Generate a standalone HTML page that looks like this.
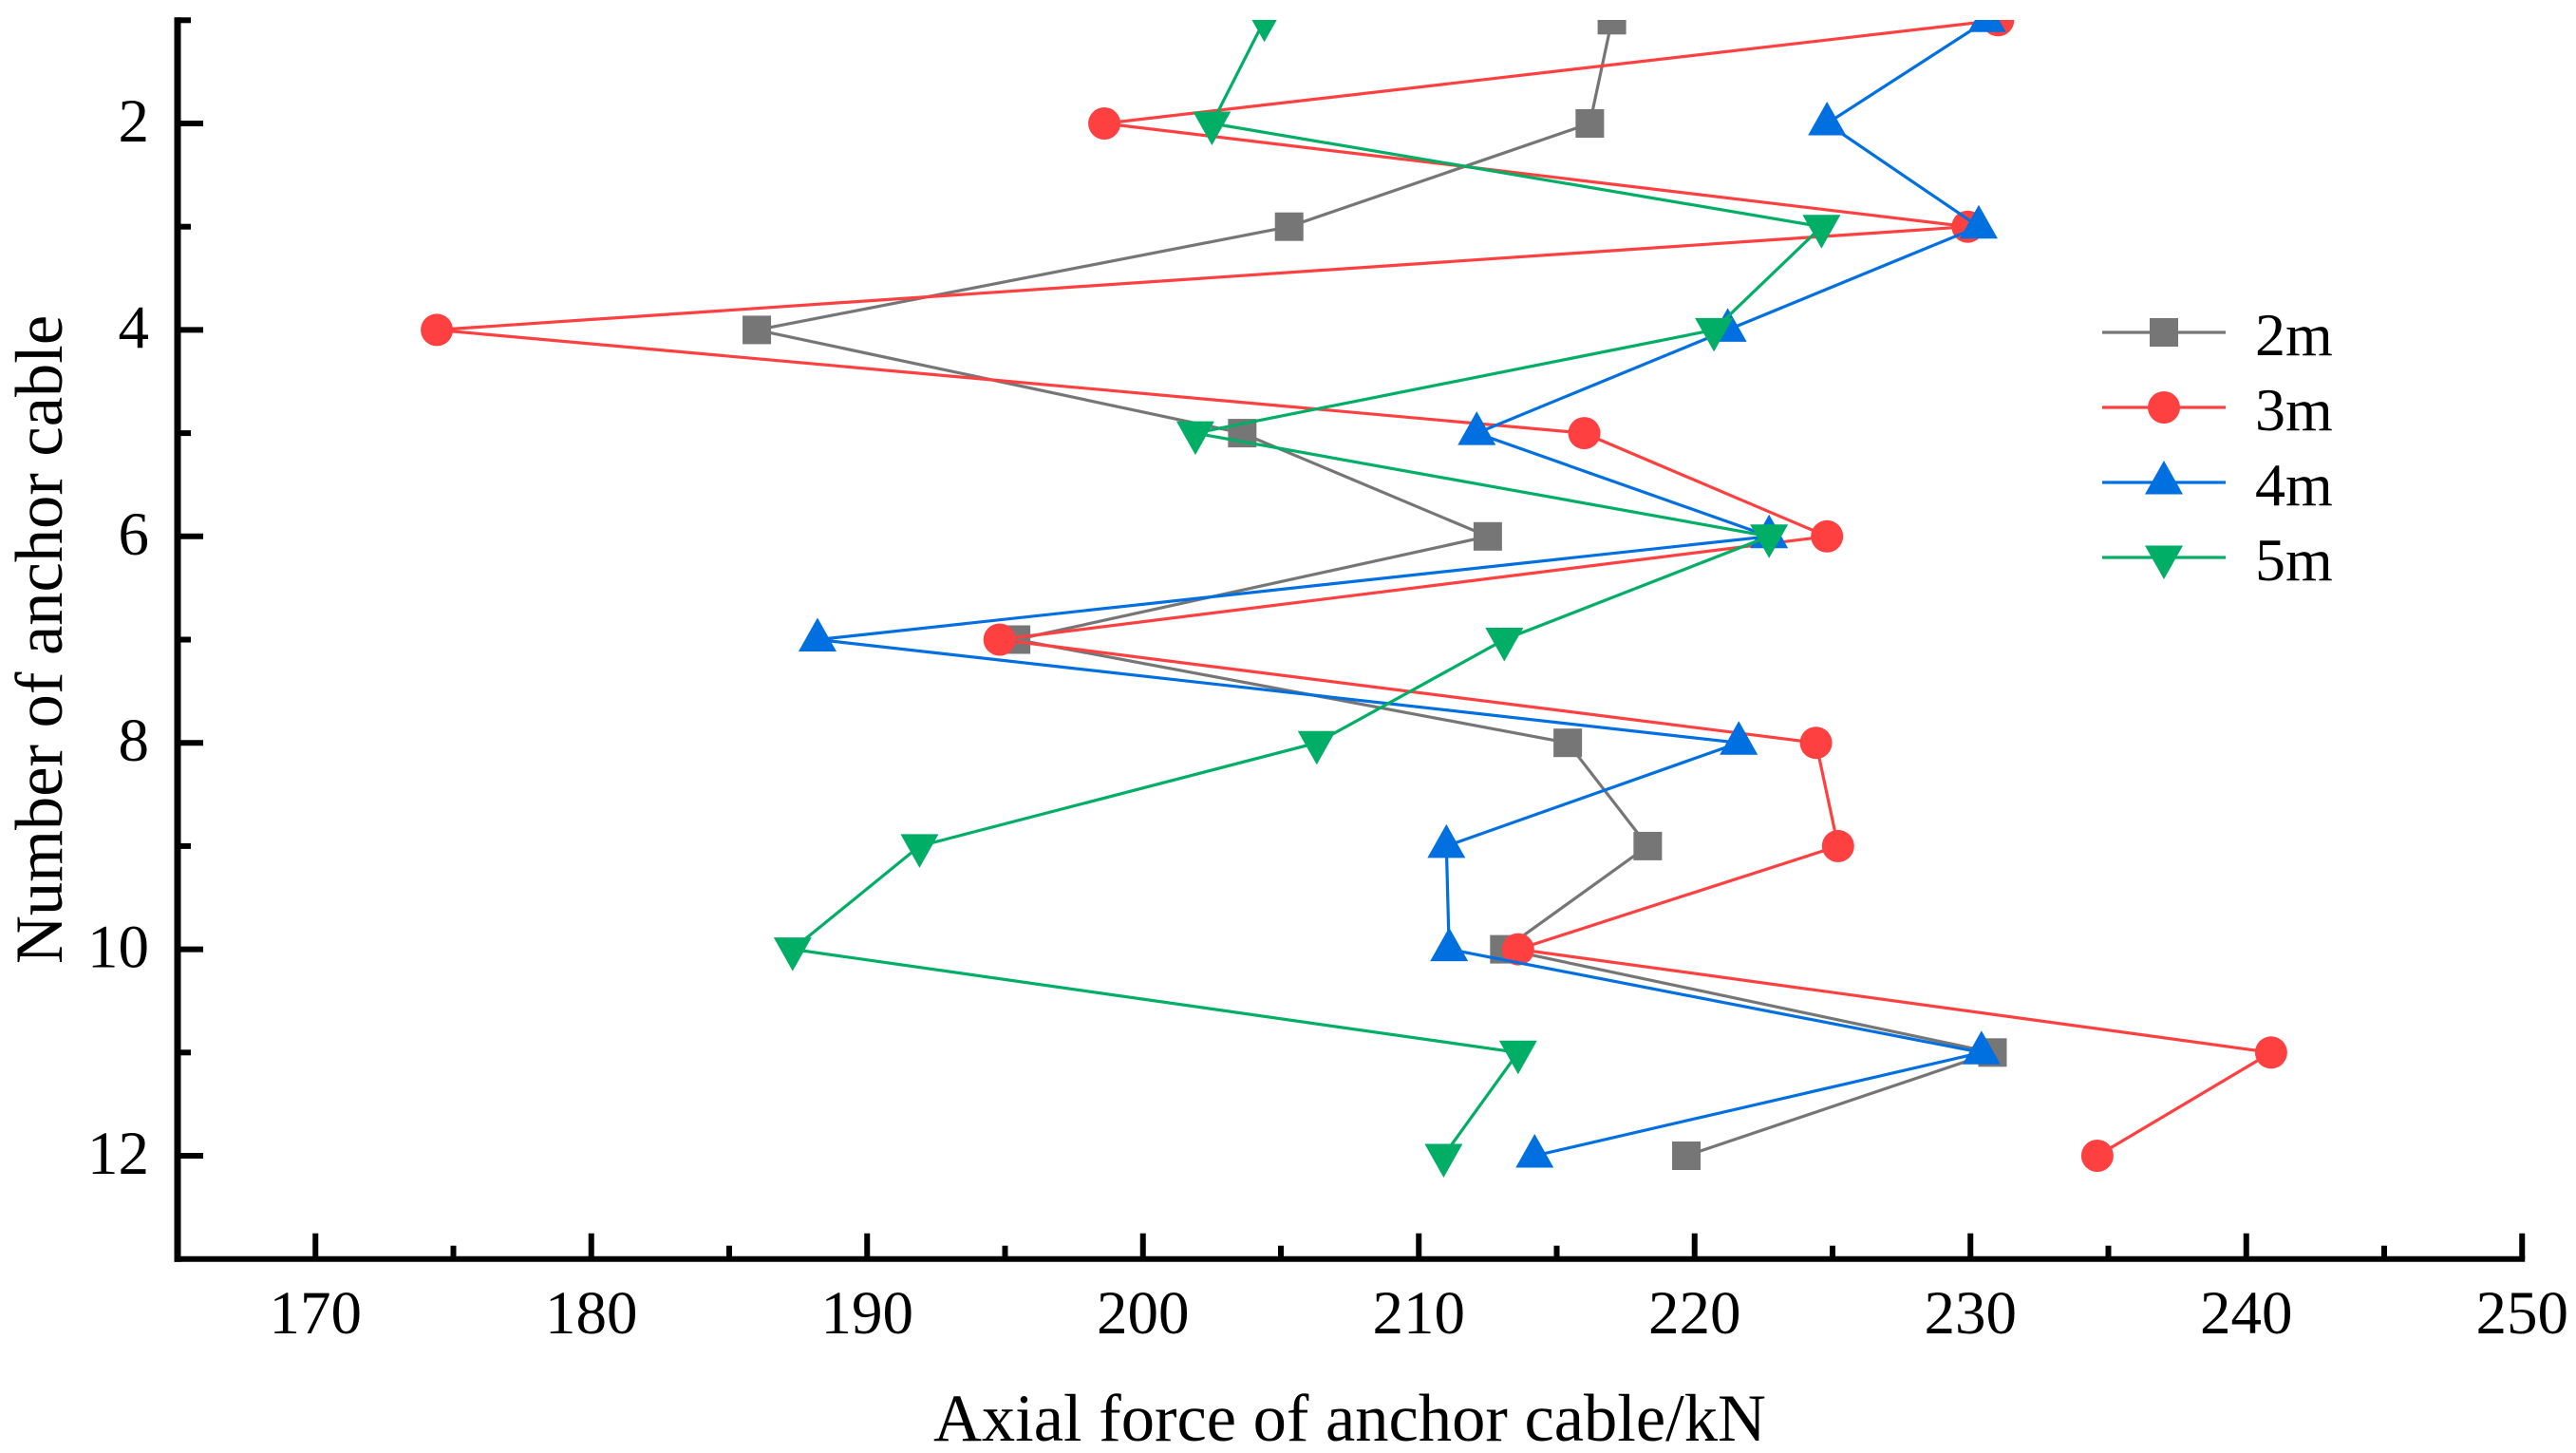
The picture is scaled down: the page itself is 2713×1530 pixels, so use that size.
<!DOCTYPE html>
<html lang="en">
<head>
<meta charset="utf-8">
<title>Axial force of anchor cable</title>
<style>
html,body{margin:0;padding:0;background:#fff;}
svg{display:block;}
text{font-family:"Liberation Serif",serif;fill:#000;}
</style>
</head>
<body>
<svg id="chart" xmlns="http://www.w3.org/2000/svg" width="2713" height="1530" viewBox="0 0 2713 1530">
  <defs>
    <clipPath id="plot-clip"><rect x="187" y="21" width="2520" height="1305"></rect></clipPath>
  </defs>
  <rect x="0" y="0" width="2713" height="1530" fill="#ffffff"></rect>
  <g id="series-layer" clip-path="url(#plot-clip)"></g>
  <g id="axes-layer"></g>
  <g id="legend-layer"></g>
  <text x="983" y="1517" font-size="70.5">Axial force of anchor cable/kN</text>
  <text transform="translate(65 1015) rotate(-90)" font-size="70.5">Number of anchor cable</text>
</svg>
<script>
const cableNumbers = [1, 2, 3, 4, 5, 6, 7, 8, 9, 10, 11, 12];
const force2m = [217.0, 216.2, 205.3, 186.0, 203.6, 212.5, 195.4, 215.4, 218.3, 213.1, 230.8, 219.7];
const force3m = [231.0, 198.6, 229.9, 174.4, 216.0, 224.8, 194.8, 224.4, 225.2, 213.6, 240.9, 234.6];
const force4m = [230.6, 224.8, 230.3, 221.2, 212.1, 222.7, 188.2, 221.6, 211.0, 211.1, 230.4, 214.2];
const force5m = [204.4, 202.5, 224.6, 220.7, 201.9, 222.7, 213.1, 206.3, 191.9, 187.3, 213.6, 210.9];
const xMajorTicks = [170, 180, 190, 200, 210, 220, 230, 240, 250];
const xMinorTicks = [175, 185, 195, 205, 215, 225, 235, 245];
const yMajorTicks = [2, 4, 6, 8, 10, 12];
const yMinorTicks = [1, 3, 5, 7, 9, 11];
const seriesNames = ['2m', '3m', '4m', '5m'];

const NS = 'http://www.w3.org/2000/svg';
const xAxis = v => 187 + (v - 165) * 29.05;
const yAxis = v => 21.3 + (v - 1) * 108.7;
const AXIS_LEFT = 187, AXIS_BOTTOM = yAxis(13), AXIS_TOP = yAxis(1), AXIS_RIGHT = xAxis(250);

function make(tag, parent, props) {
  const el = document.createElementNS(NS, tag);
  for (const k in props) el.setAttribute(k, props[k]);
  parent.appendChild(el);
  return el;
}

function drawMarker(parent, kind, cx, cy, color) {
  let m;
  if (kind === 'square') {
    m = make('rect', parent, {x: cx - 15, y: cy - 15, width: 30, height: 30, fill: color});
  } else if (kind === 'circle') {
    m = make('circle', parent, {cx: cx, cy: cy, r: 17, fill: color});
  } else if (kind === 'up') {
    m = make('polygon', parent, {points: (cx - 20) + ',' + (cy + 12.5) + ' ' + (cx + 20) + ',' + (cy + 12.5) + ' ' + cx + ',' + (cy - 23), fill: color});
  } else {
    m = make('polygon', parent, {points: (cx - 20) + ',' + (cy - 12.5) + ' ' + (cx + 20) + ',' + (cy - 12.5) + ' ' + cx + ',' + (cy + 23), fill: color});
  }
  return m;
}

const seriesValues = [force2m, force3m, force4m, force5m];
const seriesColors = ['#767676', '#ff4040', '#006fe0', '#00ae66'];
const seriesMarkers = ['square', 'circle', 'up', 'down'];

const seriesLayer = document.getElementById('series-layer');
seriesValues.forEach((vals, s) => {
  const group = make('g', seriesLayer, {});
  
  
  const pts = vals.map((v, i) => xAxis(v).toFixed(1) + ',' + yAxis(cableNumbers[i]).toFixed(1)).join(' ');
  const line = make('polyline', group, {points: pts, fill: 'none', stroke: seriesColors[s], 'stroke-width': 3.2, 'stroke-linejoin': 'miter'});
  
  
  vals.forEach((v, i) => {
    const mark = drawMarker(group, seriesMarkers[s], xAxis(v), yAxis(cableNumbers[i]), seriesColors[s]);
    
    
  });
});

const axesLayer = document.getElementById('axes-layer');
const yLine = make('line', axesLayer, {x1: AXIS_LEFT, x2: AXIS_LEFT, y1: AXIS_TOP - 3, y2: AXIS_BOTTOM + 3, stroke: '#000', 'stroke-width': 7});


const xLine = make('line', axesLayer, {x1: AXIS_LEFT - 3.5, x2: AXIS_RIGHT + 3, y1: AXIS_BOTTOM, y2: AXIS_BOTTOM, stroke: '#000', 'stroke-width': 6});



xMajorTicks.forEach(v => {
  const t = make('line', axesLayer, {x1: xAxis(v), x2: xAxis(v), y1: AXIS_BOTTOM, y2: AXIS_BOTTOM - 27, stroke: '#000', 'stroke-width': 6});
  
  
  const l = make('text', axesLayer, {x: xAxis(v), y: 1404, 'font-size': 65, 'text-anchor': 'middle'});
  l.textContent = String(v);
  
  
});
xMinorTicks.forEach(v => {
  const t = make('line', axesLayer, {x1: xAxis(v), x2: xAxis(v), y1: AXIS_BOTTOM, y2: AXIS_BOTTOM - 14, stroke: '#000', 'stroke-width': 6});
  
  
});
yMajorTicks.forEach(v => {
  const t = make('line', axesLayer, {x1: AXIS_LEFT, x2: AXIS_LEFT + 27, y1: yAxis(v), y2: yAxis(v), stroke: '#000', 'stroke-width': 6});
  
  
  const l = make('text', axesLayer, {x: 157, y: yAxis(v) + 19, 'font-size': 65, 'text-anchor': 'end'});
  l.textContent = String(v);
  
  
});
yMinorTicks.forEach(v => {
  const t = make('line', axesLayer, {x1: AXIS_LEFT, x2: AXIS_LEFT + 14, y1: yAxis(v), y2: yAxis(v), stroke: '#000', 'stroke-width': 6});
  
  
});

const legendLayer = document.getElementById('legend-layer');
seriesNames.forEach((name, s) => {
  const ly = 350 + s * 79;
  const entry = make('g', legendLayer, {});
  
  
  const sample = make('line', entry, {x1: 2214, x2: 2344, y1: ly, y2: ly, stroke: seriesColors[s], 'stroke-width': 3.2});
  
  
  const mk = drawMarker(entry, seriesMarkers[s], 2279, ly, seriesColors[s]);
  
  
  const label = make('text', entry, {x: 2375, y: ly + 24, 'font-size': 64});
  label.textContent = name;
  
  
});
</script>
</body>
</html>
